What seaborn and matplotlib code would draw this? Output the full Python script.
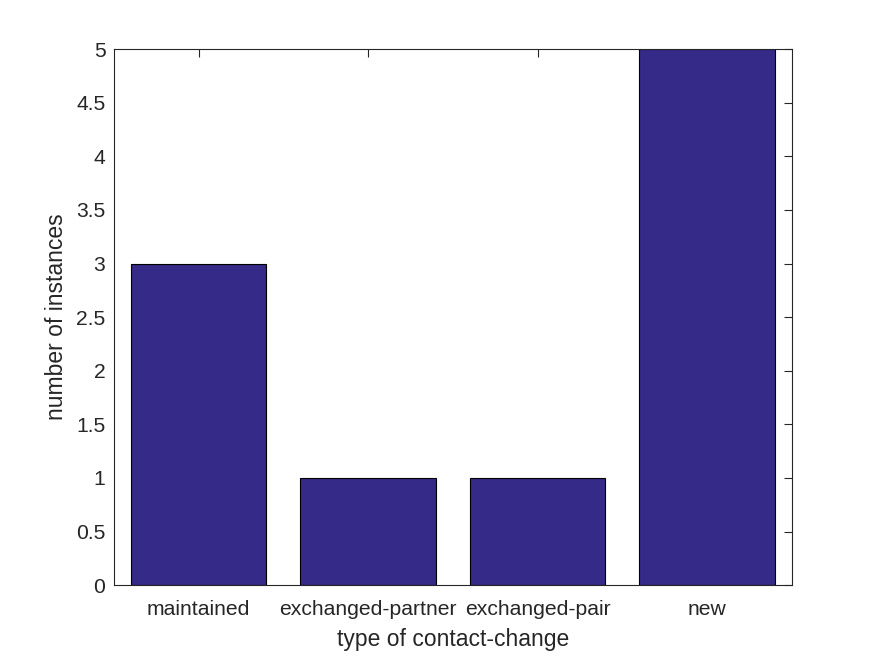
import matplotlib
matplotlib.use("Agg")
import matplotlib.pyplot as plt
import pandas as pd
import seaborn as sns

categories = ["maintained", "exchanged-partner", "exchanged-pair", "new"]
counts = [3, 1, 1, 5]

sns.set_style("white")
plt.rcParams["font.family"] = ["Liberation Sans", "DejaVu Sans"]

df = pd.DataFrame({"type": categories, "count": counts})

fig = plt.figure(figsize=(8.75, 6.56), dpi=100)
ax = fig.add_axes([0.13, 0.108, 0.775, 0.817])
sns.barplot(data=df, x="type", y="count", color="#352A87", saturation=1,
            width=0.8, edgecolor="black", linewidth=0.8, ax=ax)

ax.set_xlim(-0.5, 3.5)
ax.set_ylim(0, 5)
ax.set_yticks([0, 0.5, 1, 1.5, 2, 2.5, 3, 3.5, 4, 4.5, 5])
ax.set_yticklabels(["0", "0.5", "1", "1.5", "2", "2.5", "3", "3.5", "4", "4.5", "5"])
ax.tick_params(direction="in", length=6, width=0.8, colors="#262626",
               labelsize=15.2, top=True, right=True, pad=6)
ax.tick_params(axis="x", pad=11)
for s in ax.spines.values():
    s.set_visible(True)
    s.set_color("#262626")
    s.set_linewidth(0.8)
ax.set_xlabel("type of contact-change", fontsize=16.5, color="#262626", labelpad=6)
ax.set_ylabel("number of instances", fontsize=16.5, color="#262626", labelpad=6)

fig.savefig("out.png", dpi=100)
